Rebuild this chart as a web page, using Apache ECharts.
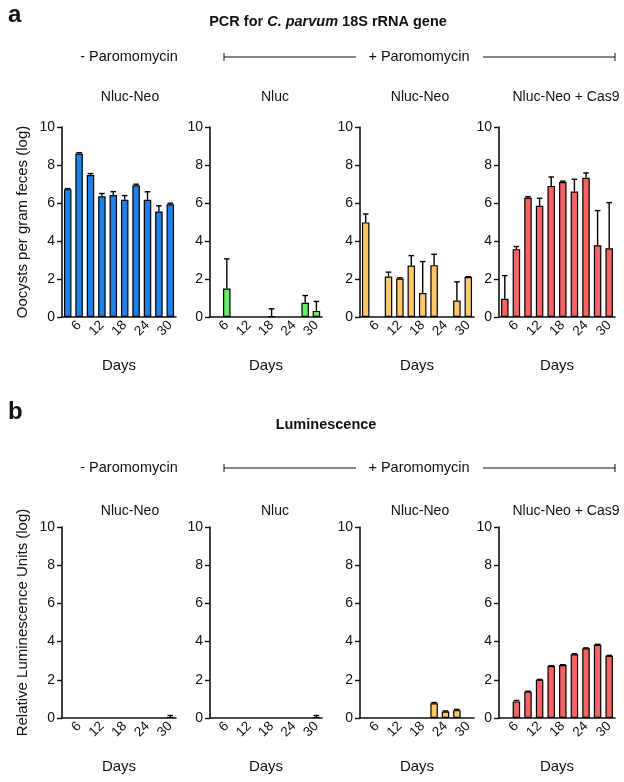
<!DOCTYPE html>
<html><head><meta charset="utf-8">
<script src="https://cdn.jsdelivr.net/npm/echarts@6/dist/echarts.min.js"></script>
<style>html,body{margin:0;padding:0;background:#fff}#c{width:624px;height:782px}</style>
</head><body><div id="c"></div>
<script>
const days = ['3','6','9','12','15','18','21','24','27','30'];
const yTicks = [0,2,4,6,8,10];
const panelTitles = ['Nluc-Neo','Nluc','Nluc-Neo','Nluc-Neo + Cas9'];
const rowYNames = ['Oocysts per gram feces (log)','Relative Luminescence Units (log)'];

// PCR (top row): means and upper SD
const pcrNeoMinus    = [6.73, 8.60, 7.47, 6.35, 6.42, 6.17, 6.93, 6.17, 5.55, 5.93];
const pcrNeoMinusErr = [0.03, 0.05, 0.08, 0.15, 0.18, 0.22, 0.06, 0.42, 0.30, 0.06];
const pcrNluc        = [null, 1.50, null, null, null, 0.03, null, null, 0.75, 0.32];
const pcrNlucErr     = [null, 1.56, null, null, null, 0.40, null, null, 0.38, 0.50];
const pcrNeoPlus     = [4.98, null, 2.13, 2.03, 2.71, 1.26, 2.73, null, 0.87, 2.10];
const pcrNeoPlusErr  = [0.44, null, 0.23, 0.03, 0.52, 1.66, 0.57, null, 0.98, 0.02];
const pcrCas9        = [0.96, 3.57, 6.28, 5.85, 6.90, 7.10, 6.60, 7.33, 3.78, 3.62];
const pcrCas9Err     = [1.22, 0.14, 0.05, 0.40, 0.47, 0.05, 0.65, 0.25, 1.82, 2.40];

// Luminescence (bottom row)
const lumNeoMinus    = [null, null, null, null, null, null, null, null, null, 0.05];
const lumNeoMinusErr = [null, null, null, null, null, null, null, null, null, 0.08];
const lumNluc        = [null, null, null, null, null, null, null, null, null, 0.05];
const lumNlucErr     = [null, null, null, null, null, null, null, null, null, 0.08];
const lumNeoPlus     = [null, null, null, null, null, null, 0.77, 0.34, 0.41, null];
const lumNeoPlusErr  = [null, null, null, null, null, null, 0.04, 0.03, 0.04, null];
const lumCas9        = [null, 0.87, 1.38, 2.00, 2.72, 2.77, 3.34, 3.65, 3.83, 3.26];
const lumCas9Err     = [null, 0.05, 0.02, 0.02, 0.02, 0.02, 0.02, 0.02, 0.03, 0.02];

const colors = ['#1f80e6', '#66ee66', '#fdc968', '#f46464'];
const rows = [
  [[pcrNeoMinus,pcrNeoMinusErr],[pcrNluc,pcrNlucErr],[pcrNeoPlus,pcrNeoPlusErr],[pcrCas9,pcrCas9Err]],
  [[lumNeoMinus,lumNeoMinusErr],[lumNluc,lumNlucErr],[lumNeoPlus,lumNeoPlusErr],[lumCas9,lumCas9Err]]
];

const FONT = '"Liberation Sans", Arial, sans-serif';
const colLeft = [62, 210, 360, 499];
const colWidth = [114, 112, 114, 116];
const colCenter = [125, 270, 415, 561];
const rowTop = [127, 527];
const rowH = [190, 191];

const grids = [], xAxes = [], yAxes = [], series = [], titles = [], graphics = [];

function errItem(params, api) {
  const v = api.value(1), e = api.value(2);
  if (v == null || isNaN(v) || e == null || isNaN(e)) return;
  const base = api.coord([api.value(0), v]);
  const top = api.coord([api.value(0), v + e]);
  const w = 2.8;
  const st = {stroke:'#000', lineWidth:1.4};
  return {type:'group', children:[
    {type:'line', shape:{x1:base[0], y1:base[1], x2:top[0], y2:top[1]}, style:st},
    {type:'line', shape:{x1:top[0]-w, y1:top[1], x2:top[0]+w, y2:top[1]}, style:st}
  ]};
}

for (let r = 0; r < 2; r++) {
  for (let c = 0; c < 4; c++) {
    const gi = r*4 + c;
    grids.push({left: colLeft[c], width: colWidth[c], top: rowTop[r], height: rowH[r]});
    xAxes.push({
      type:'category', gridIndex: gi, data: days, boundaryGap: true,
      name: 'Days', nameLocation:'middle', nameGap: 41,
      nameTextStyle:{fontFamily:FONT, fontSize:15, color:'#111'},
      axisLine:{lineStyle:{color:'#111', width:1.6}},
      axisTick:{alignWithLabel:true, interval:0, length:4, lineStyle:{color:'#111', width:1.4}},
      axisLabel:{interval:(i)=> i % 2 === 1, rotate:45, margin:6, fontFamily:FONT, fontSize:13.5, color:'#111'},
      splitLine:{show:false}
    });
    yAxes.push({
      type:'value', gridIndex: gi, min: yTicks[0], max: yTicks[yTicks.length-1], interval: 2,
      name: c === 0 ? rowYNames[r] : '', nameLocation:'middle', nameGap: 32, nameRotate: 90,
      nameTextStyle:{fontFamily:FONT, fontSize:15, color:'#111'},
      axisLine:{show:true, lineStyle:{color:'#111', width:1.6}},
      axisTick:{show:true, length:5, lineStyle:{color:'#111', width:1.4}},
      axisLabel:{margin:7, fontFamily:FONT, fontSize:14, color:'#111'},
      splitLine:{show:false}
    });
    const [vals, errs] = rows[r][c];
    series.push({
      type:'bar', xAxisIndex: gi, yAxisIndex: gi, data: vals, barWidth: 7.5,
      itemStyle:{color: colors[c], borderColor:'#000', borderWidth:1.2},
      silent:true, animation:false
    });
    series.push({
      type:'custom', xAxisIndex: gi, yAxisIndex: gi, renderItem: errItem,
      data: vals.map((v,i)=>[i, v, errs[i]]), silent:true, animation:false, z:3
    });
    titles.push({text: panelTitles[c], left: colCenter[c], top: (r===0?93:507)-8, textAlign:'center',
      textStyle:{fontFamily:FONT, fontSize:14, fontWeight:'normal', color:'#111'}});
  }
}

// Row headers
const headerY = [57, 468];
const titleY = [22, 425];
const letterY = [16, 413];
for (let r = 0; r < 2; r++) {
  graphics.push({type:'text', left: 8, top: letterY[r]-13, style:{text: r===0?'a':'b', font:'bold 24px '+FONT, fill:'#111'}});
  graphics.push({type:'text', x: 129, y: headerY[r], style:{text:'- Paromomycin', font:'14.5px '+FONT, fill:'#111', textAlign:'center', textVerticalAlign:'middle'}});
  graphics.push({type:'text', x: 419, y: headerY[r], style:{text:'+ Paromomycin', font:'14.5px '+FONT, fill:'#111', textAlign:'center', textVerticalAlign:'middle'}});
  const ls = {stroke:'#111', lineWidth:1};
  graphics.push({type:'line', shape:{x1:224, y1:headerY[r], x2:356, y2:headerY[r]}, style:ls});
  graphics.push({type:'line', shape:{x1:483, y1:headerY[r], x2:615, y2:headerY[r]}, style:ls});
  graphics.push({type:'line', shape:{x1:224, y1:headerY[r]-4, x2:224, y2:headerY[r]+4}, style:ls});
  graphics.push({type:'line', shape:{x1:615, y1:headerY[r]-4, x2:615, y2:headerY[r]+4}, style:ls});
}
graphics.push({type:'text', x: 328, y: titleY[0], style:{
  text:'{b|PCR for }{bi|C. parvum}{b| 18S rRNA gene}', textAlign:'center', textVerticalAlign:'middle',
  rich:{b:{font:'bold 14.5px '+FONT, fill:'#111'}, bi:{font:'italic bold 14.5px '+FONT, fill:'#111'}}}});
graphics.push({type:'text', x: 326, y: titleY[1], style:{
  text:'Luminescence', font:'bold 14.5px '+FONT, fill:'#111', textAlign:'center', textVerticalAlign:'middle'}});

const chart = echarts.init(document.getElementById('c'), null, {renderer:'canvas'});
chart.setOption({
  backgroundColor:'#fff', animation:false,
  title: titles, grid: grids, xAxis: xAxes, yAxis: yAxes, series: series, graphic: graphics
});
</script></body></html>
